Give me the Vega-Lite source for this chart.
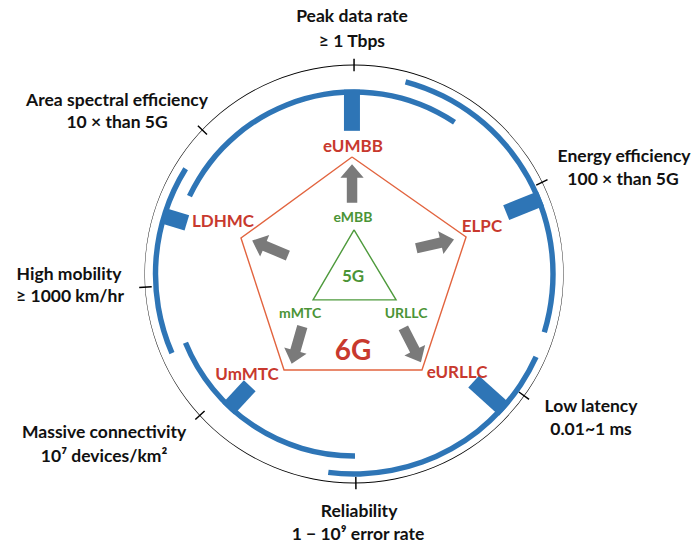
{
  "$schema": "https://vega.github.io/schema/vega-lite/v6.json",
  "width": 692,
  "height": 548,
  "padding": 0,
  "autosize": {"type": "fit", "contains": "padding"},
  "background": "white",
  "config": {"view": {"stroke": null}},
  "datasets": {
    "arcs": [
      {"part": "ring", "t1": 0, "t2": 360, "r1": 99.75, "r2": 100.25},
      {"part": "tick", "t1": -0.2, "t2": 0.2, "r1": 97, "r2": 103},
      {"part": "tick", "t1": 63.8, "t2": 64.2, "r1": 97, "r2": 103},
      {"part": "tick", "t1": 125.4, "t2": 125.8, "r1": 97, "r2": 103},
      {"part": "tick", "t1": 179.3, "t2": 179.7, "r1": 97, "r2": 103},
      {"part": "tick", "t1": 227.3, "t2": 227.7, "r1": 97, "r2": 103},
      {"part": "tick", "t1": 266.2, "t2": 266.6, "r1": 97, "r2": 103},
      {"part": "tick", "t1": 313.3, "t2": 313.7, "r1": 97, "r2": 103},
      {"part": "blue", "t1": 295.3, "t2": 393.5, "r1": 85.8, "r2": 88.4},
      {"part": "blue", "t1": 15, "t2": 107, "r1": 93.9, "r2": 96.5},
      {"part": "blue", "t1": 114.5, "t2": 187.4, "r1": 94.4, "r2": 97.0},
      {"part": "blue", "t1": 179.7, "t2": 247.8, "r1": 85.8, "r2": 88.4},
      {"part": "blue", "t1": 246.5, "t2": 302, "r1": 93.7, "r2": 96.3}
    ],
    "blocks": [
      {"service": "eUMBB", "x": -1, "y": 68.5, "x2": -1, "y2": 88.2},
      {"service": "ELPC", "x": 72.8, "y": 29.4, "x2": 89.4, "y2": 36.1},
      {"service": "eURLLC", "x": 57.2, "y": -51.5, "x2": 72.0, "y2": -64.8},
      {"service": "UmMTC", "x": -49.9, "y": -53.5, "x2": -60.2, "y2": -64.6},
      {"service": "LDHMC", "x": -80.0, "y": 24.5, "x2": -91.0, "y2": 27.8}
    ],
    "shapes": [
      {"shape": "6G", "i": 0, "x": -0.96, "y": 56.0},
      {"shape": "6G", "i": 1, "x": 53.6, "y": 17.7},
      {"shape": "6G", "i": 2, "x": 32.5, "y": -45.9},
      {"shape": "6G", "i": 3, "x": -33.5, "y": -45.9},
      {"shape": "6G", "i": 4, "x": -54.1, "y": 17.2},
      {"shape": "6G", "i": 5, "x": -0.96, "y": 56.0},
      {"shape": "5G", "i": 0, "x": 0, "y": 21.1},
      {"shape": "5G", "i": 1, "x": 20.1, "y": -12.4},
      {"shape": "5G", "i": 2, "x": -19.6, "y": -12.4},
      {"shape": "5G", "i": 3, "x": 0, "y": 21.1}
    ],
    "arrows": [
      {"from": "eMBB", "to": "eUMBB", "x": -0.96, "y": 43.3, "angle": 0},
      {"from": "eMBB", "to": "LDHMC", "x": -40.2, "y": 12.4, "angle": 293},
      {"from": "eMBB", "to": "ELPC", "x": 38.8, "y": 14.4, "angle": 77},
      {"from": "mMTC", "to": "UmMTC", "x": -27.3, "y": -34.0, "angle": 196},
      {"from": "URLLC", "to": "eURLLC", "x": 27.8, "y": -34.0, "angle": 153}
    ],
    "labels": [
      {"kind": "metric", "text": "Peak data rate", "x": -1.0, "y": 123.0},
      {"kind": "metric", "text": "≥ 1 Tbps", "x": -1.0, "y": 111.0},
      {"kind": "metric", "text": "Area spectral efficiency", "x": -113.4, "y": 82.8},
      {"kind": "metric", "text": "10 × than 5G", "x": -113.4, "y": 72.2},
      {"kind": "metric", "text": "Energy efficiency", "x": 129.2, "y": 56.0},
      {"kind": "metric", "text": "100 × than 5G", "x": 128.7, "y": 45.0},
      {"kind": "metric", "text": "High mobility", "x": -136.4, "y": -0.5},
      {"kind": "metric", "text": "≥ 1000 km/hr", "x": -135.9, "y": -11.0},
      {"kind": "metric", "text": "Massive connectivity", "x": -119.6, "y": -76.1},
      {"kind": "metric", "text": "10⁷ devices/km²", "x": -119.6, "y": -87.6},
      {"kind": "metric", "text": "Low latency", "x": 113.4, "y": -63.6},
      {"kind": "metric", "text": "0.01~1 ms", "x": 113.4, "y": -74.6},
      {"kind": "metric", "text": "Reliability", "x": 2.4, "y": -113.9},
      {"kind": "metric", "text": "1 − 10⁹ error rate", "x": 1.9, "y": -124.9},
      {"kind": "service6", "text": "eUMBB", "x": -0.5, "y": 60.8},
      {"kind": "service6", "text": "LDHMC", "x": -62.7, "y": 24.9},
      {"kind": "service6", "text": "ELPC", "x": 61.2, "y": 22.5},
      {"kind": "service6", "text": "UmMTC", "x": -51.2, "y": -48.3},
      {"kind": "service6", "text": "eURLLC", "x": 49.3, "y": -47.4},
      {"kind": "service5", "text": "eMBB", "x": -0.5, "y": 26.8},
      {"kind": "service5", "text": "mMTC", "x": -25.8, "y": -19.1},
      {"kind": "service5", "text": "URLLC", "x": 24.9, "y": -19.1},
      {"kind": "g5", "text": "5G", "x": -0.5, "y": -1.4},
      {"kind": "g6", "text": "6G", "x": -0.5, "y": -37.3}
    ]
  },
  "layer": [
    {
      "data": {"name": "arcs"},
      "mark": {"type": "arc"},
      "encoding": {
        "x": {"datum": 0, "type": "quantitative", "scale": {"domain": [-169.4, 161.7], "nice": false, "zero": false}, "axis": null},
        "y": {"datum": 0, "type": "quantitative", "scale": {"domain": [-131.1, 131.1], "nice": false, "zero": false}, "axis": null},
        "theta": {"field": "t1", "type": "quantitative", "stack": null, "scale": {"domain": [0, 360], "range": [0, 6.283185], "zero": false, "nice": false}},
        "theta2": {"field": "t2"},
        "radius": {"field": "r1", "type": "quantitative", "scale": {"type": "linear", "domain": [0, 100], "range": [0, 209], "zero": true, "nice": false}},
        "radius2": {"field": "r2"},
        "color": {"field": "part", "type": "nominal", "scale": {"domain": ["ring", "tick", "blue"], "range": ["#000000", "#000000", "#2E75B6"]}, "legend": null}
      }
    },
    {
      "data": {"name": "blocks"},
      "mark": {"type": "rule", "strokeWidth": 16, "strokeCap": "butt", "color": "#2E75B6"},
      "encoding": {
        "x": {"field": "x", "type": "quantitative", "scale": {"domain": [-169.4, 161.7], "nice": false, "zero": false}, "axis": null},
        "y": {"field": "y", "type": "quantitative", "scale": {"domain": [-131.1, 131.1], "nice": false, "zero": false}, "axis": null},
        "x2": {"field": "x2"},
        "y2": {"field": "y2"}
      }
    },
    {
      "data": {"name": "shapes"},
      "transform": [{"filter": "datum.shape === '6G'"}],
      "mark": {"type": "line", "strokeWidth": 1.4, "color": "#E2643F"},
      "encoding": {
        "x": {"field": "x", "type": "quantitative", "scale": {"domain": [-169.4, 161.7], "nice": false, "zero": false}, "axis": null},
        "y": {"field": "y", "type": "quantitative", "scale": {"domain": [-131.1, 131.1], "nice": false, "zero": false}, "axis": null},
        "order": {"field": "i", "type": "quantitative"}
      }
    },
    {
      "data": {"name": "shapes"},
      "transform": [{"filter": "datum.shape === '5G'"}],
      "mark": {"type": "line", "strokeWidth": 1.4, "color": "#4E9A3C"},
      "encoding": {
        "x": {"field": "x", "type": "quantitative", "scale": {"domain": [-169.4, 161.7], "nice": false, "zero": false}, "axis": null},
        "y": {"field": "y", "type": "quantitative", "scale": {"domain": [-131.1, 131.1], "nice": false, "zero": false}, "axis": null},
        "order": {"field": "i", "type": "quantitative"}
      }
    },
    {
      "data": {"name": "arrows"},
      "mark": {"type": "point", "filled": true, "opacity": 1, "color": "#7A7A7A", "size": 1500,
               "shape": "M -0.27 1 L -0.27 -0.3 L -0.6 -0.3 L 0 -1 L 0.6 -0.3 L 0.27 -0.3 L 0.27 1 Z"},
      "encoding": {
        "x": {"field": "x", "type": "quantitative", "scale": {"domain": [-169.4, 161.7], "nice": false, "zero": false}, "axis": null},
        "y": {"field": "y", "type": "quantitative", "scale": {"domain": [-131.1, 131.1], "nice": false, "zero": false}, "axis": null},
        "angle": {"field": "angle", "type": "quantitative", "scale": {"domain": [0, 360], "range": [0, 360]}}
      }
    },
    {
      "data": {"name": "labels"},
      "transform": [{"filter": "datum.kind === 'metric'"}],
      "mark": {"type": "text", "font": "Lato", "fontWeight": "bold", "baseline": "middle", "align": "center", "fontSize": 17.5, "color": "#111111"},
      "encoding": {
        "x": {"field": "x", "type": "quantitative", "scale": {"domain": [-169.4, 161.7], "nice": false, "zero": false}, "axis": null},
        "y": {"field": "y", "type": "quantitative", "scale": {"domain": [-131.1, 131.1], "nice": false, "zero": false}, "axis": null},
        "text": {"field": "text"}
      }
    },
    {
      "data": {"name": "labels"},
      "transform": [{"filter": "datum.kind === 'service6'"}],
      "mark": {"type": "text", "font": "Lato", "fontWeight": "bold", "baseline": "middle", "align": "center", "fontSize": 17, "color": "#C8392E"},
      "encoding": {
        "x": {"field": "x", "type": "quantitative", "scale": {"domain": [-169.4, 161.7], "nice": false, "zero": false}, "axis": null},
        "y": {"field": "y", "type": "quantitative", "scale": {"domain": [-131.1, 131.1], "nice": false, "zero": false}, "axis": null},
        "text": {"field": "text"}
      }
    },
    {
      "data": {"name": "labels"},
      "transform": [{"filter": "datum.kind === 'service5'"}],
      "mark": {"type": "text", "font": "Lato", "fontWeight": "bold", "baseline": "middle", "align": "center", "fontSize": 14, "color": "#4B9436"},
      "encoding": {
        "x": {"field": "x", "type": "quantitative", "scale": {"domain": [-169.4, 161.7], "nice": false, "zero": false}, "axis": null},
        "y": {"field": "y", "type": "quantitative", "scale": {"domain": [-131.1, 131.1], "nice": false, "zero": false}, "axis": null},
        "text": {"field": "text"}
      }
    },
    {
      "data": {"name": "labels"},
      "transform": [{"filter": "datum.kind === 'g5'"}],
      "mark": {"type": "text", "font": "Lato", "fontWeight": "bold", "baseline": "middle", "align": "center", "fontSize": 17, "color": "#4B9436"},
      "encoding": {
        "x": {"field": "x", "type": "quantitative", "scale": {"domain": [-169.4, 161.7], "nice": false, "zero": false}, "axis": null},
        "y": {"field": "y", "type": "quantitative", "scale": {"domain": [-131.1, 131.1], "nice": false, "zero": false}, "axis": null},
        "text": {"field": "text"}
      }
    },
    {
      "data": {"name": "labels"},
      "transform": [{"filter": "datum.kind === 'g6'"}],
      "mark": {"type": "text", "font": "Lato", "fontWeight": "bold", "baseline": "middle", "align": "center", "fontSize": 28, "color": "#C8392E"},
      "encoding": {
        "x": {"field": "x", "type": "quantitative", "scale": {"domain": [-169.4, 161.7], "nice": false, "zero": false}, "axis": null},
        "y": {"field": "y", "type": "quantitative", "scale": {"domain": [-131.1, 131.1], "nice": false, "zero": false}, "axis": null},
        "text": {"field": "text"}
      }
    }
  ]
}
